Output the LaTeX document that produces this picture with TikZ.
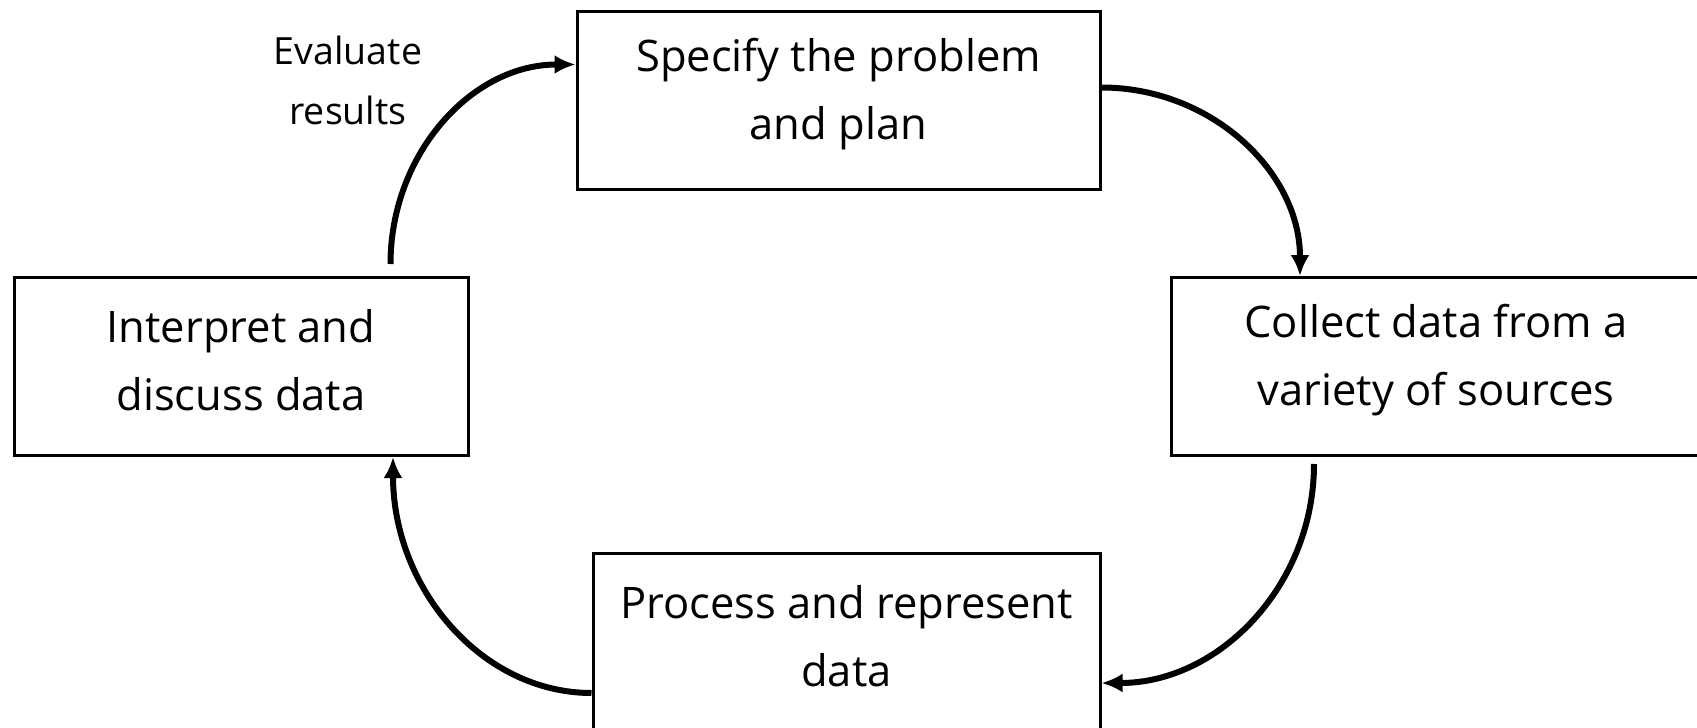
\documentclass[tikz,border=0pt]{standalone}
\usepackage{fontspec}
\setmainfont{Open Sans}
\usetikzlibrary{arrows.meta}
\begin{document}
\begin{tikzpicture}[x=1pt,y=-1pt,
  box/.style={draw, line width=3pt, minimum width=#1, minimum height=178pt, inner sep=0pt},
  txt/.style={align=center, font=\fontsize{43.5}{68}\selectfont, inner sep=0pt},
  lbl/.style={align=center, font=\fontsize{37.5}{60}\selectfont, inner sep=0pt},
  flow/.style={line width=6pt, -{Latex[length=21pt,width=19pt]}}]
\useasboundingbox[fill=white] (0,0) rectangle (1697,728);
\node[box=523pt] (top) at (838.5,100) {};
\node[txt] (topt) at ([yshift=6pt]top.center) {Specify the problem\\and plan};
\node[box=454pt] (left) at (241,366.5) {};
\node[txt] (leftt) at ([yshift=6pt]left.center) {Interpret and\\discuss data};
\node[box=530pt] (right) at (1436,366.5) {};
\node[txt] (rightt) at ([yshift=6pt]right.center) {Collect data from a\\variety of sources};
\node[box=507pt] (bottom) at (846.5,642) {};
\node[txt] (bottomt) at ([yshift=6pt]bottom.center) {Process and represent\\data};
\node[lbl] (eval) at (348,80) {Evaluate\\results};
\coordinate (s1) at ([shift={(-79pt,12pt)}]left.north east);
\coordinate (e1) at ([yshift=-55pt]top.north west);
\draw[flow] (s1) .. controls ([yshift=110pt]s1) and ([xshift=-104pt]e1) .. (e1);
\coordinate (s2) at ([yshift=-78pt]top.north east);
\coordinate (e2) at ([xshift=-136pt]right.north);
\draw[flow] (s2) .. controls ([xshift=110pt]s2) and ([yshift=104pt]e2) .. (e2);
\coordinate (s3) at ([shift={(-122pt,-7pt)}]right.south);
\coordinate (e3) at ([yshift=-41pt]bottom.east);
\draw[flow] (s3) .. controls ([yshift=-121pt]s3) and ([xshift=118pt]e3) .. (e3);
\coordinate (s4) at ([yshift=-51pt]bottom.west);
\coordinate (e4) at ([xshift=152pt]left.south);
\draw[flow] (s4) .. controls ([xshift=-110pt]s4) and ([yshift=-131pt]e4) .. (e4);
\end{tikzpicture}
\end{document}
